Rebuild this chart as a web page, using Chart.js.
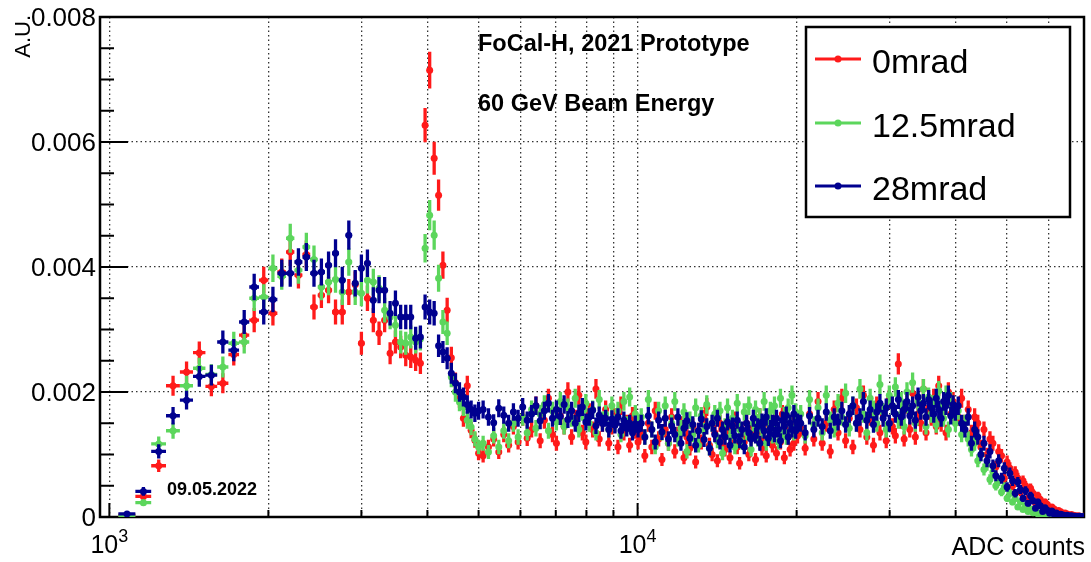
<!DOCTYPE html>
<html>
<head>
<meta charset="utf-8">
<title>FoCal-H 2021 prototype - ADC spectra</title>
<script src="https://cdn.jsdelivr.net/npm/chart.js@4.4.1/dist/chart.umd.min.js"></script>
<style>
  html, body { margin: 0; padding: 0; background: #fff; }
  canvas { display: block; }
</style>
</head>
<body>
<canvas id="adc" width="1091" height="562"></canvas>
<script>
// histogram binning: [first edge, bin width, number of bins] (ADC counts)
var binSegments = [
    [1040, 80, 50],
    [5040, 120, 42],
    [10080, 160, 63],
    [20160, 400, 50],
    [40160, 600, 50]
];

// bin contents, in units of 1e-5 A.U.
var mrad0 = [
    // 1040 - 5040
    3, 33, 82, 210, 232, 263, 209, 214, 260, 291, 315, 379, 326, 392, 424, 387, 420, 336, 355, 363,
    328, 328, 360, 372, 278, 350, 315, 294, 315, 262, 280, 272, 259, 256, 251, 246, 627, 715, 574, 515,
    403, 331, 255, 215, 190, 158, 210, 139, 123, 102,
    // 5040 - 10080
    98, 112, 125, 104, 132, 115, 145, 120, 160, 126, 140, 178, 122, 155, 190, 132, 118, 162, 145, 200,
    128, 158, 195, 135, 120, 168, 140, 205, 125, 150, 172, 118, 145, 160, 112, 178, 135, 150, 115, 162,
    138, 120,
    // 10080 - 20160
    135, 98, 150, 112, 170, 125, 92, 140, 118, 160, 105, 132, 148, 95, 128, 110, 145, 88, 138, 120,
    158, 176, 115, 100, 135, 90, 150, 122, 108, 142, 95, 130, 155, 112, 86, 138, 120, 150, 100, 128,
    145, 92, 135, 160, 110, 125, 98, 148, 132, 115, 155, 102, 138, 120, 165, 95, 140, 128, 108, 150,
    118, 145, 130,
    // 20160 - 40160
    142, 110, 165, 125, 185, 118, 150, 105, 172, 135, 190, 122, 158, 112, 175, 140, 195, 128, 160, 115,
    178, 135, 165, 122, 188, 145, 130, 245, 155, 125, 180, 140, 198, 128, 165, 150, 205, 135, 175, 160,
    190, 145, 210, 150, 178, 135, 200, 165, 185, 158,
    // 40160 - 70160
    160, 190, 150, 172, 135, 160, 150, 112, 140, 100, 125, 118, 80, 105, 98, 62, 88, 78, 50, 72,
    62, 40, 58, 50, 30, 46, 38, 22, 34, 28, 16, 24, 20, 11, 16, 13, 7, 10.5, 8.5, 5,
    6.5, 5, 2.8, 4, 3, 1.6, 2.2, 1.6, 1, 1.2
];
var mrad12p5 = [
    // 1040 - 5040
    2, 23, 117, 138, 210, 238, 228, 240, 278, 280, 350, 352, 398, 385, 446, 395, 432, 412, 368, 376,
    380, 360, 408, 360, 358, 379, 376, 366, 331, 320, 307, 280, 278, 288, 280, 285, 430, 483, 451, 382,
    312, 294, 224, 200, 184, 176, 155, 144, 125, 112,
    // 5040 - 10080
    118, 104, 130, 112, 138, 122, 150, 128, 160, 135, 172, 142, 165, 180, 138, 170, 152, 185, 145, 175,
    158, 190, 140, 168, 182, 150, 172, 135, 188, 155, 165, 140, 178, 150, 170, 132, 185, 148, 192, 140,
    165, 150,
    // 10080 - 20160
    160, 128, 188, 140, 112, 170, 135, 178, 118, 150, 185, 125, 142, 168, 105, 155, 132, 175, 115, 162,
    138, 180, 110, 150, 165, 122, 170, 102, 145, 175, 128, 158, 112, 182, 140, 120, 168, 135, 178, 108,
    150, 172, 125, 160, 140, 185, 118, 155, 170, 130, 178, 145, 120, 190, 138, 162, 128, 175, 150, 195,
    135, 168, 148,
    // 20160 - 40160
    165, 130, 188, 148, 175, 135, 195, 155, 140, 182, 160, 198, 142, 178, 150, 205, 165, 135, 190, 172,
    150, 212, 168, 140, 195, 178, 208, 155, 185, 145, 200, 168, 215, 150, 185, 172, 205, 145, 192, 165,
    180, 148, 202, 170, 158, 195, 140, 185, 168, 150,
    // 40160 - 70160
    170, 132, 150, 125, 108, 118, 90, 100, 76, 84, 60, 72, 50, 58, 40, 48, 30, 38, 24, 30,
    16, 24, 12, 18, 9, 13, 7, 9.5, 5, 6.5, 3.5, 4.5, 2.5, 3, 1.8, 2.2, 1.3, 1.5, 1, 1.1,
    0.8, 0.8, 0.6, 0.6, 0.5, 0.5, 0.4, 0.4, 0.3, 0.3
];
var mrad28 = [
    // 1040 - 5040
    5, 41, 105, 162, 187, 225, 227, 280, 267, 312, 368, 328, 348, 390, 390, 408, 416, 390, 392, 403,
    422, 379, 451, 374, 398, 406, 347, 363, 363, 326, 342, 320, 320, 320, 286, 288, 336, 328, 326, 274,
    264, 254, 230, 214, 200, 192, 180, 172, 166, 170,
    // 5040 - 10080
    172, 160, 151, 174, 163, 150, 168, 158, 176, 155, 165, 178, 154, 170, 182, 158, 172, 161, 180, 156,
    170, 150, 166, 176, 152, 160, 171, 146, 163, 150, 158, 140, 157, 147, 160, 138, 155, 142, 150, 135,
    149, 140,
    // 10080 - 20160
    150, 128, 162, 140, 120, 155, 136, 158, 125, 146, 132, 160, 118, 142, 154, 126, 148, 115, 138, 157,
    124, 145, 110, 150, 132, 158, 120, 140, 128, 152, 115, 146, 130, 155, 122, 140, 112, 150, 135, 125,
    158, 130, 145, 118, 152, 138, 160, 126, 142, 150, 132, 158, 140, 122, 155, 145, 163, 128, 150, 140,
    165, 138, 152,
    // 20160 - 40160
    150, 135, 162, 140, 158, 145, 168, 138, 160, 152, 170, 148, 165, 178, 150, 160, 185, 155, 172, 148,
    168, 182, 158, 175, 150, 178, 165, 188, 160, 172, 185, 162, 178, 155, 192, 170, 182, 160, 188, 175,
    165, 190, 172, 158, 185, 178, 195, 162, 180, 168,
    // 40160 - 70160
    178, 150, 140, 160, 118, 140, 128, 100, 118, 90, 105, 82, 66, 90, 62, 78, 48, 70, 58, 38,
    56, 44, 30, 42, 22, 34, 26, 14, 24, 18, 9, 15, 11, 6, 9.5, 4.5, 6.5, 3, 4.5, 3.2,
    2, 3, 1.5, 2, 1.4, 1.1, 0.8, 1.1, 0.6, 0.7
];

var seriesNames = ['0mrad', '12.5mrad', '28mrad'];
var seriesValues = [mrad0, mrad12p5, mrad28];
var seriesColors = ['#ff1a1a', '#5cd65c', '#00008f'];

var UNIT = 1e-5;
// A.U. carried by a single entry, for the Poisson error bars
var ENTRY_WEIGHT = 1.2e-5;

// axes
var xMin = 960, xMax = 70000;
var xGrid = [1000, 2000, 3000, 4000, 5000, 6000, 7000, 8000, 9000,
             10000, 20000, 30000, 40000, 50000, 60000];
var xLabelled = [1000, 10000];
var xLabelExp = ['3', '4'];
var yMax = 0.008;
var yTicks = [0, 0.002, 0.004, 0.006, 0.008];
var yTickLabels = ['0', '0.002', '0.004', '0.006', '0.008'];
var yDivisions = 4;

var FONT = '"Liberation Sans", Arial, Helvetica, sans-serif';

// bin centres and edges
var binLo = [], binHi = [], binMid = [];
binSegments.forEach(function (s) {
    for (var i = 0; i < s[2]; i++) {
        binLo.push(s[0] + i * s[1]);
        binHi.push(s[0] + (i + 1) * s[1]);
        binMid.push(s[0] + (i + 0.5) * s[1]);
    }
});

function makePoints(values) {
    return values.map(function (v, i) {
        var y = v * UNIT;
        return { x: binMid[i], y: y, lo: binLo[i], hi: binHi[i], err: Math.sqrt(y * ENTRY_WEIGHT) };
    });
}

// vertical + horizontal error bars, drawn with each dataset so the stacking order is kept
var errorBars = {
    id: 'errorBars',
    beforeDatasetDraw: function (chart, args) {
        var ds = chart.data.datasets[args.index];
        var xs = chart.scales.x, ys = chart.scales.y, ctx = chart.ctx, a = chart.chartArea;
        ctx.save();
        ctx.beginPath();
        ctx.rect(a.left, a.top, a.right - a.left, a.bottom - a.top);
        ctx.clip();
        ctx.strokeStyle = ds.backgroundColor;
        ctx.lineWidth = 3.3;
        ctx.beginPath();
        ds.data.forEach(function (p) {
            var px = xs.getPixelForValue(p.x), py = ys.getPixelForValue(p.y);
            ctx.moveTo(xs.getPixelForValue(p.lo), py);
            ctx.lineTo(xs.getPixelForValue(p.hi), py);
            ctx.moveTo(px, ys.getPixelForValue(Math.max(p.y - p.err, 0)));
            ctx.lineTo(px, ys.getPixelForValue(p.y + p.err));
        });
        ctx.stroke();
        ctx.restore();
    }
};

// frame and inward ticks
var frame = {
    id: 'frame',
    beforeDatasetsDraw: function (chart) {
        var ctx = chart.ctx, a = chart.chartArea, xs = chart.scales.x, ys = chart.scales.y;
        ctx.save();
        ctx.strokeStyle = '#000';
        ctx.lineWidth = 2.5;
        ctx.strokeRect(a.left, a.top, a.right - a.left, a.bottom - a.top);
        ctx.lineWidth = 2;
        ctx.beginPath();
        var step = (yTicks[1] - yTicks[0]) / yDivisions;
        var n = Math.round(yMax / step);
        for (var i = 0; i <= n; i++) {
            var py = ys.getPixelForValue(i * step);
            ctx.moveTo(a.left, py);
            ctx.lineTo(a.left + (i % yDivisions === 0 ? 28 : 14), py);
        }
        xGrid.forEach(function (v) {
            var px = xs.getPixelForValue(v);
            ctx.moveTo(px, a.bottom);
            ctx.lineTo(px, a.bottom - (xLabelled.indexOf(v) >= 0 ? 14 : 7));
        });
        ctx.stroke();
        ctx.restore();
    },
    afterDraw: function (chart) {
        var ctx = chart.ctx, a = chart.chartArea, xs = chart.scales.x, ys = chart.scales.y;
        ctx.save();
        ctx.fillStyle = '#000';

        // y tick labels
        ctx.font = '26px ' + FONT;
        ctx.textAlign = 'right';
        ctx.textBaseline = 'middle';
        yTicks.forEach(function (v, i) {
            ctx.fillText(yTickLabels[i], a.left - 4, ys.getPixelForValue(v) + 2);
        });

        // x tick labels, 10 with a raised exponent
        ctx.textBaseline = 'alphabetic';
        ctx.textAlign = 'left';
        xLabelled.forEach(function (v, i) {
            var px = xs.getPixelForValue(v);
            ctx.font = '25px ' + FONT;
            var wBase = ctx.measureText('10').width;
            ctx.font = '18px ' + FONT;
            var wExp = ctx.measureText(xLabelExp[i]).width;
            var x0 = px - (wBase + wExp) / 2;
            ctx.font = '25px ' + FONT;
            ctx.fillText('10', x0, 553);
            ctx.font = '18px ' + FONT;
            ctx.fillText(xLabelExp[i], x0 + wBase, 542);
        });

        // axis titles
        ctx.font = '25px ' + FONT;
        ctx.textAlign = 'right';
        ctx.fillText('ADC counts', a.right + 1, 555);
        ctx.save();
        ctx.translate(30, 15);
        ctx.rotate(-Math.PI / 2);
        ctx.font = '22px ' + FONT;
        ctx.textAlign = 'right';
        ctx.fillText('A.U.', 0, 0);
        ctx.restore();

        // annotations
        ctx.textAlign = 'left';
        ctx.font = 'bold 23.5px ' + FONT;
        ctx.fillText('FoCal-H, 2021 Prototype', 478, 51);
        ctx.fillText('60 GeV Beam Energy', 478, 111);
        ctx.font = 'bold 18px ' + FONT;
        ctx.fillText('09.05.2022', 167, 495);

        // legend box
        ctx.fillStyle = '#fff';
        ctx.fillRect(806, 27, 264, 190);
        ctx.strokeStyle = '#000';
        ctx.lineWidth = 2.5;
        ctx.strokeRect(806, 27, 264, 190);
        var rows = [59, 123, 186];
        chart.data.datasets.forEach(function (ds, i) {
            var ly = rows[i];
            ctx.strokeStyle = ds.backgroundColor;
            ctx.lineWidth = 3;
            ctx.beginPath();
            ctx.moveTo(815, ly);
            ctx.lineTo(861, ly);
            ctx.stroke();
            ctx.fillStyle = ds.backgroundColor;
            ctx.beginPath();
            ctx.arc(838, ly, 3.5, 0, Math.PI * 2);
            ctx.fill();
            ctx.fillStyle = '#000';
            ctx.font = '34px ' + FONT;
            ctx.fillText(ds.label, 872, ly + 14);
        });
        ctx.restore();
    }
};

var datasets = seriesValues.map(function (vals, i) {
    return {
        label: seriesNames[i],
        data: makePoints(vals),
        backgroundColor: seriesColors[i],
        pointBackgroundColor: seriesColors[i],
        pointBorderWidth: 0,
        pointRadius: 3.5,
        showLine: false,
        order: seriesValues.length - 1 - i
    };
});

new Chart(document.getElementById('adc'), {
    type: 'scatter',
    data: { datasets: datasets },
    options: {
        responsive: false,
        devicePixelRatio: 1,
        animation: false,
        events: [],
        layout: { padding: { left: 100, right: 7, top: 17, bottom: 45 } },
        plugins: { legend: { display: false }, tooltip: { enabled: false } },
        scales: {
            x: {
                type: 'logarithmic',
                min: xMin,
                max: xMax,
                afterBuildTicks: function (s) { s.ticks = xGrid.map(function (v) { return { value: v }; }); },
                ticks: { display: false },
                grid: { color: '#333', lineWidth: 1.3, drawTicks: false },
                border: { display: false, dash: [1.5, 3] }
            },
            y: {
                type: 'linear',
                min: 0,
                max: yMax,
                afterBuildTicks: function (s) { s.ticks = yTicks.map(function (v) { return { value: v }; }); },
                ticks: { display: false },
                grid: { color: '#333', lineWidth: 1.3, drawTicks: false },
                border: { display: false, dash: [1.5, 3] }
            }
        }
    },
    plugins: [errorBars, frame]
});
</script>
</body>
</html>
